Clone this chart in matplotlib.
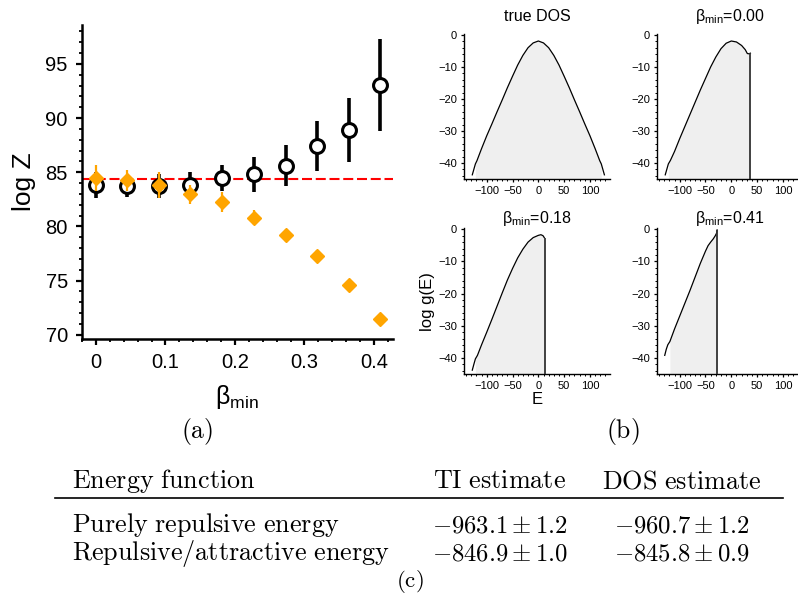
import numpy as np
import matplotlib
matplotlib.use("Agg")
import matplotlib.pyplot as plt
from matplotlib.ticker import MultipleLocator

plt.rcParams['font.family'] = ['Liberation Sans', 'DejaVu Sans']
plt.rcParams['mathtext.fontset'] = 'custom'
plt.rcParams['mathtext.rm'] = 'Liberation Sans'
plt.rcParams['mathtext.it'] = 'Liberation Sans:italic'

# (a) log Z against beta_min
beta_min = [0.0, 0.045, 0.091, 0.136, 0.182, 0.227, 0.273, 0.318, 0.364, 0.409]
logz_dos = [83.85, 83.75, 83.7, 83.8, 84.5, 84.8, 85.6, 87.4, 88.9, 93.1]
logz_dos_err = [1.2, 1.0, 1.1, 1.2, 1.2, 1.6, 1.9, 2.3, 2.95, 4.25]
logz_other = [84.45, 84.25, 83.8, 82.95, 82.25, 80.8, 79.2, 77.3, 74.6, 71.45]
logz_other_err = [1.2, 0.95, 1.2, 0.9, 0.9, 0.7, 0.6, 0.5, 0.4, 0.3]
logz_true = 84.4

# (b) log g(E) curves
E_true = [-128, -125, -122, -119, -115, -110, -100, -90, -80, -70, -60, -50, -40, -30, -20, -10,
          0, 10, 20, 30, 40, 50, 60, 70, 80, 90, 100, 110, 115, 119, 122, 125, 128]
g_true = [-43.7, -42.0, -40.3, -39.3, -37.6, -35.5, -31.5, -27.8, -24.0, -20.3, -16.5, -12.9, -9.4, -6.4, -4.0, -2.5,
          -1.9, -2.5, -4.0, -6.4, -9.4, -12.9, -16.5, -20.3, -24.0, -27.8, -31.5, -35.5, -37.6, -39.3, -40.3, -42.0, -43.7]

E_000 = [-128, -125, -122, -118, -110, -100, -90, -80, -70, -60, -50, -40, -30, -20, -10, 0, 10, 20, 27, 31, 34, 37]
g_000 = [-43.7, -42.0, -40.3, -39.2, -36.4, -32.4, -28.6, -24.8, -21.0, -17.2, -13.6, -10.0, -6.9, -4.3, -2.6,
         -1.9, -2.2, -3.3, -4.6, -5.8, -5.9, -5.7]

E_018 = [-128, -125, -122, -118, -110, -100, -90, -80, -70, -60, -50, -40, -30, -20, -10, 0, 5, 9, 11.5]
g_018 = [-43.8, -42.0, -40.3, -39.2, -35.9, -32.0, -28.0, -23.9, -19.8, -15.8, -12.2, -8.9, -6.2, -4.0, -2.6,
         -1.9, -1.7, -2.0, -2.6]

E_041 = [-129, -126, -123, -119, -116, -110, -100, -90, -80, -70, -60, -50, -45, -40, -35, -31, -28.5, -27.5]
g_041 = [-39.2, -37.3, -35.9, -34.9, -33.6, -31.0, -27.0, -23.0, -19.0, -14.8, -10.6, -6.8, -5.1, -4.0, -3.0,
         -2.0, -1.2, -0.2]

dos_titles = ['true DOS', r'$\mathregular{\beta_{min}}$=0.00', r'$\mathregular{\beta_{min}}$=0.18',
              r'$\mathregular{\beta_{min}}$=0.41']
dos_cut = [None, 37, 12, -27]

# (c) table
table_header = ['Energy function', 'TI estimate', 'DOS estimate']
table_rows = ['Purely repulsive energy', 'Repulsive/attractive energy']
ti_est = [(-963.1, 1.2), (-846.9, 1.0)]
dos_est = [(-960.7, 1.2), (-845.8, 0.9)]

fig = plt.figure(figsize=(7.98, 5.99), dpi=100)

# ---- panel (a)
ax = fig.add_axes([0.1024, 0.4341, 0.3897, 0.5242])
ax.axhline(logz_true, color='red', lw=1.5, ls=(0, (4.8, 1.8)), zorder=1)
ax.errorbar(beta_min, logz_dos, yerr=logz_dos_err, fmt='o', ms=10, mfc='white', mec='black', mew=2.2,
            ecolor='black', elinewidth=2.6, capsize=0, zorder=3)
ax.errorbar(beta_min, logz_other, yerr=logz_other_err, fmt='D', ms=7, color='orange', mec='orange',
            ecolor='orange', elinewidth=1.6, capsize=0, zorder=4)
ax.set_xlim(-0.0205, 0.427)
ax.set_ylim(69.6, 98.6)
ax.set_yticks([70, 75, 80, 85, 90, 95])
ax.set_xticks([0, 0.1, 0.2, 0.3, 0.4])
ax.set_xticklabels(['0', '0.1', '0.2', '0.3', '0.4'])
ax.xaxis.set_minor_locator(MultipleLocator(0.02))
ax.yaxis.set_minor_locator(MultipleLocator(1))
for s in ['top', 'right']:
    ax.spines[s].set_visible(False)
for s in ['left', 'bottom']:
    ax.spines[s].set_linewidth(1.8)
ax.tick_params(which='major', direction='out', length=4, width=1.6, labelsize=14.5, pad=6)
ax.tick_params(which='minor', direction='out', length=2.5, width=1.3)
ax.set_ylabel('log Z', fontsize=19, labelpad=7)
ax.set_xlabel(r'$\mathregular{\beta_{min}}$', fontsize=18, labelpad=8)

# ---- panel (b)
dos_pos = [[0.5815, 0.7012, 0.183, 0.2421], [0.8233, 0.7012, 0.183, 0.2421],
           [0.5815, 0.3756, 0.183, 0.2433], [0.8233, 0.3756, 0.183, 0.2433]]
dos_E = [E_true, E_000, E_018, E_041]
dos_g = [g_true, g_000, g_018, g_041]
y_bottom = -45
for i in range(4):
    a = fig.add_axes(dos_pos[i])
    E = np.array(dos_E[i])
    g = np.array(dos_g[i])
    mask = (E >= -122) & (E <= 122)
    a.fill_between(E, g, y_bottom, where=mask, color='#efefef', lw=0, zorder=1)
    a.plot(E, g, color='black', lw=0.9, zorder=3)
    if dos_cut[i] is not None:
        a.vlines(dos_cut[i], y_bottom, g[-1], color='#333333', lw=1.3, zorder=3)
    a.set_xlim(-144, 139)
    a.set_ylim(y_bottom, 0.3)
    a.set_xticks([-100, -50, 0, 50, 100])
    a.set_yticks([-40, -30, -20, -10, 0])
    a.xaxis.set_minor_locator(MultipleLocator(10))
    a.yaxis.set_minor_locator(MultipleLocator(2))
    for s in ['top', 'right']:
        a.spines[s].set_visible(False)
    for s in ['left', 'bottom']:
        a.spines[s].set_linewidth(1.0)
    a.tick_params(which='major', direction='out', length=2.5, width=0.9, labelsize=8, pad=2.5)
    a.tick_params(which='minor', direction='out', length=1.5, width=0.7)
    a.set_title(dos_titles[i], fontsize=11.5, pad=9 if i < 2 else 4)
    if i == 2:
        a.set_ylabel('log g(E)', fontsize=12, labelpad=2)
        a.set_xlabel('E', fontsize=12, labelpad=1)

fig.text(0.2465, 0.2788, r'$\mathrm{(a)}$', ha='center', va='center', fontsize=18.5, math_fontfamily='cm')
fig.text(0.780, 0.2788, r'$\mathrm{(b)}$', ha='center', va='center', fontsize=18.5, math_fontfamily='cm')

# ---- table (c)
def tex(s):
    return r'$\mathrm{' + s.replace(' ', r'\ ') + '}$'

col_x = [0.0899, 0.626, 0.8543]
head_y = 0.1848
row_y = [0.1113, 0.0651]
tfs = 18.8
nfs = 17.8
fig.text(col_x[0], head_y, tex(table_header[0]), ha='left', va='baseline', fontsize=tfs, math_fontfamily='cm')
fig.text(col_x[1], head_y, tex(table_header[1]), ha='center', va='baseline', fontsize=tfs, math_fontfamily='cm')
fig.text(col_x[2], head_y, tex(table_header[2]), ha='center', va='baseline', fontsize=tfs, math_fontfamily='cm')
fig.add_artist(plt.Line2D([0.0689, 0.9812], [0.1681, 0.1681], color='black', lw=1.2))
for r in range(2):
    fig.text(col_x[0], row_y[r], tex(table_rows[r]), ha='left', va='baseline', fontsize=tfs,
             math_fontfamily='cm')
    fig.text(col_x[1], row_y[r], r'$%.1f \pm %.1f$' % ti_est[r], ha='center', va='baseline',
             fontsize=nfs, math_fontfamily='cm')
    fig.text(col_x[2], row_y[r], r'$%.1f \pm %.1f$' % dos_est[r], ha='center', va='baseline',
             fontsize=nfs, math_fontfamily='cm')
fig.text(0.5138, 0.006, r'$\mathrm{(c)}$', ha='center', va='bottom', fontsize=16.5, math_fontfamily='cm')

fig.savefig('out.png', dpi=100)
